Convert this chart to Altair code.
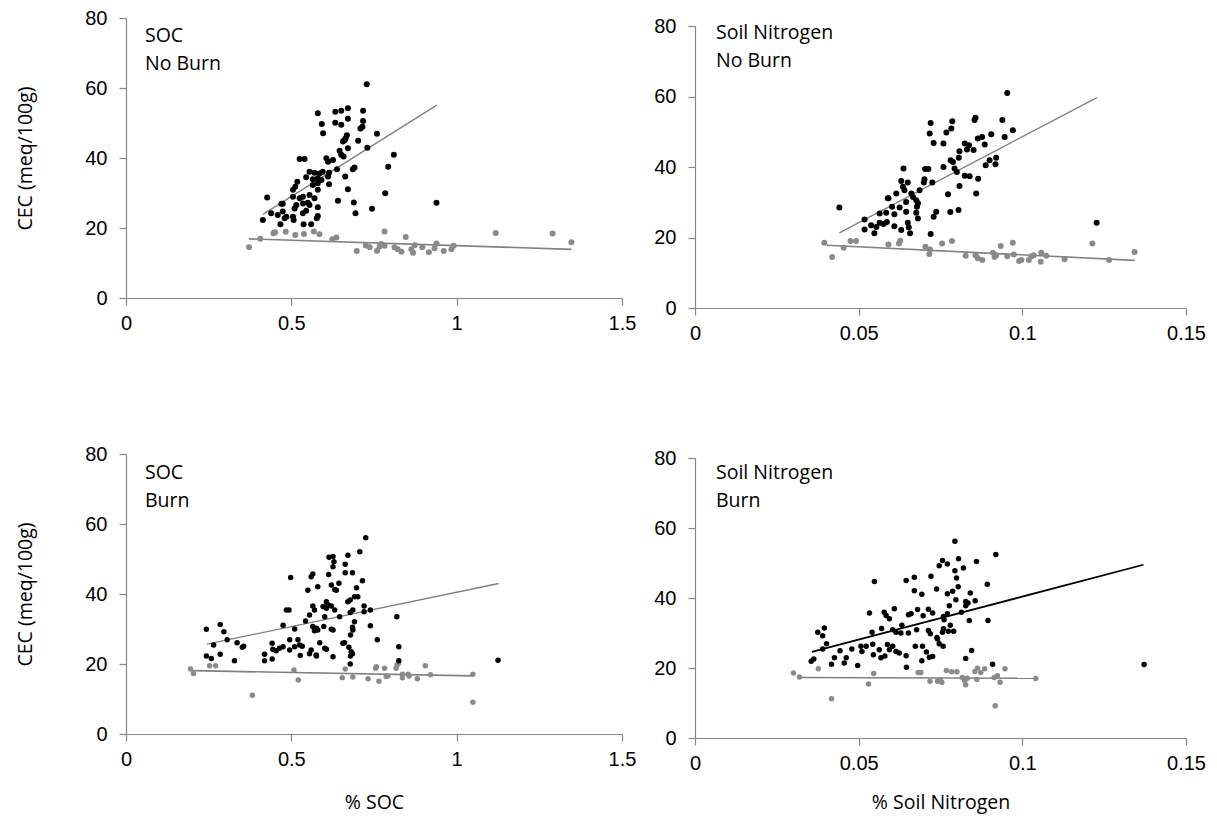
import altair as alt
import pandas as pd

# ---------------- SOC, no burn ----------------
soc_nb_black_x = [0.518, 0.512, 0.505, 0.427, 0.470, 0.474, 0.505, 0.439, 0.414, 0.459, 0.474, 0.485, 0.480,
                  0.505, 0.507, 0.467, 0.515, 0.510, 0.728,
                  0.580, 0.633, 0.651, 0.671, 0.717, 0.592, 0.633, 0.651, 0.671, 0.717, 0.715, 0.709, 0.596,
                  0.668, 0.664, 0.759, 0.656, 0.661, 0.702, 0.730, 0.671, 0.646, 0.651, 0.658, 0.810, 0.525,
                  0.540, 0.606, 0.611, 0.626, 0.793, 0.686, 0.691, 0.638, 0.555, 0.570, 0.585, 0.595, 0.614,
                  0.545, 0.565, 0.580, 0.591, 0.611, 0.663, 0.565, 0.580, 0.614, 0.580, 0.671, 0.784, 0.555,
                  0.535, 0.525, 0.570, 0.641, 0.689, 0.939, 0.535, 0.550, 0.555, 0.580, 0.744, 0.545, 0.535,
                  0.694, 0.580, 0.577, 0.537, 0.560]
soc_nb_black_y = [33.2, 31.8, 30.9, 28.7, 26.9, 26.9, 28.9, 24.2, 22.3, 23.7, 24.7, 23.2, 22.8,
                  23.2, 22.3, 21.1, 26.6, 25.6, 61.1,
                  52.8, 53.2, 53.5, 54.2, 53.5, 49.7, 50.1, 49.5, 51.2, 50.6, 48.9, 48.4, 47.1,
                  46.5, 45.6, 46.9, 44.7, 45.1, 44.9, 42.9, 42.8, 42.1, 40.9, 40.4, 40.9, 39.7,
                  39.7, 39.9, 38.9, 39.4, 37.5, 36.8, 37.3, 36.8, 36.1, 35.8, 35.6, 36.1, 35.8,
                  34.5, 33.9, 34.2, 33.7, 34.7, 34.7, 32.3, 32.8, 32.5, 30.9, 31.1, 29.9, 29.4,
                  28.9, 28.5, 28.5, 27.8, 27.3, 27.2, 27.0, 27.2, 26.6, 25.9, 25.5, 24.9, 24.2,
                  24.2, 23.4, 22.8, 21.1, 21.1]
soc_nb_gray_x = [0.372, 0.406, 0.446, 0.451, 0.483, 0.512, 0.538, 0.568, 0.585, 0.624, 0.636, 0.698, 0.725,
                 0.737, 0.759, 0.767, 0.772, 0.782, 0.782, 0.812, 0.822, 0.833, 0.846, 0.863, 0.868, 0.873,
                 0.896, 0.916, 0.933, 0.939, 0.961, 0.984, 0.991, 1.118, 1.290, 1.347]
soc_nb_gray_y = [14.5, 16.9, 18.5, 18.8, 18.9, 18.0, 18.3, 19.0, 18.2, 16.8, 17.3, 13.4, 15.0,
                 14.5, 13.5, 14.7, 15.4, 19.0, 14.9, 14.5, 13.9, 13.2, 17.4, 13.9, 12.9, 15.1,
                 14.5, 13.1, 14.2, 15.6, 13.4, 13.9, 14.9, 18.6, 18.4, 15.9]
soc_nb_fit_black_x = [0.414, 0.940]
soc_nb_fit_black_y = [23.9, 55.1]
soc_nb_fit_gray_x = [0.372, 1.347]
soc_nb_fit_gray_y = [16.9, 13.9]

# ---------------- Soil nitrogen, no burn ----------------
n_nb_black_x = [0.0441, 0.0591, 0.0518, 0.0564, 0.0584, 0.0518, 0.0538, 0.0554, 0.0548, 0.0564, 0.0576, 0.0586,
                0.0954, 0.0720, 0.0786, 0.0857, 0.0854, 0.0939, 0.0717, 0.0768, 0.0783, 0.0971, 0.0729, 0.0759,
                0.0905, 0.0946, 0.0877, 0.0864, 0.0824, 0.0837, 0.0831, 0.0851, 0.0885, 0.0808, 0.0806, 0.0781,
                0.0788, 0.0900, 0.0920, 0.0918, 0.0888, 0.0759, 0.0793, 0.0800, 0.0637, 0.0703, 0.0713, 0.0824,
                0.0839, 0.0865, 0.0808, 0.0859, 0.0701, 0.0699, 0.0725, 0.0630, 0.0650, 0.0686, 0.0635, 0.0640,
                0.0615, 0.0589, 0.0661, 0.0666, 0.0676, 0.0681, 0.0773, 0.0645, 0.0678, 0.0625, 0.0602, 0.0805,
                0.0780, 0.0737, 0.0729, 0.0609, 0.0676, 0.0681, 0.0645, 0.0609, 0.0630, 0.0650, 0.0653, 0.0657,
                0.0720, 0.1227]
n_nb_black_y = [28.5, 31.1, 25.1, 26.8, 27.0, 22.3, 23.5, 23.0, 21.2, 24.2, 23.8, 24.4,
                61.0, 52.5, 53.0, 54.0, 53.3, 53.3, 49.5, 49.8, 50.9, 50.4, 46.8, 46.7,
                49.3, 48.5, 48.5, 48.1, 46.7, 46.2, 45.0, 44.8, 46.4, 44.5, 42.6, 41.9,
                41.4, 41.9, 42.6, 40.8, 40.5, 40.0, 39.6, 38.6, 39.6, 39.4, 39.4, 37.5,
                37.4, 36.7, 34.6, 32.5, 36.5, 35.6, 35.6, 36.0, 35.6, 33.4, 34.4, 33.4,
                32.5, 31.1, 32.5, 31.5, 30.6, 29.7, 32.3, 30.1, 28.7, 28.5, 28.7, 27.8,
                27.2, 27.3, 25.9, 26.6, 27.0, 25.4, 27.3, 23.2, 22.1, 24.2, 22.9, 21.2,
                21.0, 24.2]
n_nb_gray_x = [0.0395, 0.0419, 0.0454, 0.0475, 0.0492, 0.0591, 0.0623, 0.0627, 0.0704, 0.0718, 0.0716, 0.0755,
               0.0785, 0.0827, 0.0857, 0.0864, 0.0878, 0.0910, 0.0915, 0.0920, 0.0934, 0.0971, 0.0954, 0.0974,
               0.0990, 0.0997, 0.1020, 0.1028, 0.1035, 0.1056, 0.1058, 0.1073, 0.1129, 0.1214, 0.1265, 0.1343]
n_nb_gray_y = [18.5, 14.5, 17.1, 19.0, 19.0, 18.0, 18.3, 19.1, 17.4, 16.6, 15.3, 18.3,
               19.0, 14.8, 15.0, 14.1, 13.6, 15.7, 14.5, 15.0, 17.6, 18.5, 14.7, 15.2,
               13.3, 13.6, 13.6, 14.7, 15.0, 13.1, 15.7, 14.8, 13.8, 18.3, 13.6, 15.9]
n_nb_fit_black_x = [0.0441, 0.1228]
n_nb_fit_black_y = [21.3, 59.7]
n_nb_fit_gray_x = [0.0403, 0.1343]
n_nb_fit_gray_y = [17.8, 13.5]

# ---------------- SOC, burn ----------------
soc_b_black_x = [0.725, 0.614, 0.626, 0.629, 0.626, 0.671, 0.707, 0.663, 0.663, 0.685, 0.613, 0.565, 0.560,
                 0.498, 0.715, 0.580, 0.621, 0.644, 0.636, 0.631, 0.550, 0.697, 0.606, 0.611, 0.606, 0.631,
                 0.621, 0.596, 0.565, 0.570, 0.671, 0.678, 0.691, 0.701, 0.720, 0.739, 0.720, 0.686, 0.678,
                 0.485, 0.493, 0.646, 0.601, 0.555, 0.819, 0.543, 0.475, 0.691, 0.685, 0.686, 0.565, 0.576,
                 0.570, 0.580, 0.598, 0.621, 0.626, 0.510, 0.739, 0.243, 0.285, 0.296, 0.306, 0.336, 0.352,
                 0.356, 0.265, 0.679, 0.656, 0.661, 0.586, 0.495, 0.520, 0.525, 0.510, 0.495, 0.475, 0.464,
                 0.442, 0.444, 0.454, 0.533, 0.560, 0.555, 0.575, 0.601, 0.606, 0.760, 0.825, 0.674, 0.681,
                 0.685, 0.679, 0.243, 0.258, 0.285, 0.328, 0.419, 0.419, 0.442, 0.527, 0.576, 0.626, 0.825,
                 0.678, 1.125]
soc_b_black_y = [56.1, 50.5, 50.7, 49.2, 47.8, 51.1, 52.1, 48.5, 46.1, 46.1, 45.6, 45.7, 44.9,
                 44.7, 43.8, 42.1, 42.6, 43.1, 41.1, 41.3, 41.1, 41.8, 37.8, 36.9, 35.9, 35.4,
                 36.6, 36.4, 36.6, 35.4, 37.8, 38.3, 39.2, 39.2, 36.6, 35.4, 34.9, 35.4, 34.7,
                 35.4, 35.4, 33.5, 33.5, 34.0, 33.5, 32.3, 31.1, 32.1, 30.5, 29.7, 30.7, 30.2,
                 29.5, 29.7, 30.7, 29.9, 29.7, 30.0, 30.9, 29.9, 31.3, 29.2, 26.9, 26.1, 24.8,
                 25.1, 25.4, 28.3, 25.9, 26.1, 26.1, 26.9, 26.9, 25.4, 24.9, 24.0, 24.9, 24.5,
                 25.9, 24.2, 23.8, 25.1, 24.0, 22.9, 22.6, 24.5, 24.2, 26.9, 24.9, 24.8, 23.5,
                 22.9, 22.3, 22.3, 21.6, 22.8, 20.9, 22.8, 20.9, 21.4, 22.4, 22.3, 22.1, 20.9,
                 20.0, 21.1]
soc_b_gray_x = [0.195, 0.204, 0.253, 0.271, 0.382, 0.508, 0.521, 0.654, 0.663, 0.686, 0.732, 0.757, 0.755,
                0.765, 0.782, 0.787, 0.792, 0.817, 0.820, 0.824, 0.836, 0.836, 0.853, 0.856, 0.881, 0.905,
                0.921, 1.049, 1.049]
soc_b_gray_y = [18.6, 17.3, 19.5, 19.5, 11.1, 18.3, 15.4, 16.1, 18.6, 16.3, 15.8, 19.2, 18.8,
                15.1, 18.8, 16.4, 16.6, 18.8, 19.7, 20.2, 17.1, 16.1, 17.1, 16.6, 15.8, 19.5,
                16.9, 17.1, 9.1]
soc_b_fit_black_x = [0.245, 1.127]
soc_b_fit_black_y = [25.7, 43.0]
soc_b_fit_gray_x = [0.202, 1.049]
soc_b_fit_gray_y = [18.1, 16.6]

# ---------------- Soil nitrogen, burn ----------------
n_b_black_x = [0.0794, 0.0919, 0.0805, 0.0756, 0.0746, 0.0771, 0.0820, 0.0860, 0.0645, 0.0670, 0.0721, 0.0794,
               0.0799, 0.0893, 0.0670, 0.0693, 0.0738, 0.0771, 0.0787, 0.0804, 0.0841, 0.0777, 0.0797, 0.0827,
               0.0856, 0.0827, 0.0834, 0.0680, 0.0660, 0.0652, 0.0697, 0.0713, 0.0726, 0.0759, 0.0771, 0.0761,
               0.0814, 0.0838, 0.0895, 0.0632, 0.0629, 0.0652, 0.0677, 0.0713, 0.0719, 0.0739, 0.0756, 0.0774,
               0.0780, 0.0790, 0.0759,
               0.0548, 0.0533, 0.0578, 0.0584, 0.0609, 0.0594, 0.0375, 0.0395, 0.0390, 0.0402, 0.0390, 0.0541,
               0.0570, 0.0604, 0.0614, 0.0355, 0.0363, 0.0417, 0.0426, 0.0443, 0.0456, 0.0462, 0.0479, 0.0497,
               0.0507, 0.0510, 0.0523, 0.0543, 0.0545, 0.0563, 0.0568, 0.0580, 0.0588, 0.0594, 0.0604, 0.0614,
               0.0624, 0.0646, 0.0909, 0.0827, 0.0845, 0.0645, 0.0673, 0.0695, 0.0693, 0.0707, 0.0716, 0.0726,
               0.0741, 0.0746, 0.0758, 0.1372]
n_b_black_y = [56.2, 52.4, 51.2, 50.7, 49.2, 49.7, 48.6, 50.4, 45.0, 45.9, 46.2, 47.8,
               45.7, 43.9, 42.1, 41.1, 42.6, 41.2, 41.9, 43.2, 41.4, 37.8, 39.5, 39.0,
               39.2, 37.8, 38.6, 36.7, 35.5, 35.2, 34.9, 36.8, 35.7, 34.7, 35.5, 33.8,
               35.9, 33.6, 33.6, 32.2, 30.0, 30.0, 30.9, 30.7, 29.8, 28.7, 30.2, 30.5,
               32.2, 30.5, 31.2,
               44.7, 35.7, 35.9, 35.0, 36.9, 34.1, 30.2, 31.4, 29.2, 26.9, 25.4, 30.2,
               31.3, 30.9, 30.2, 21.9, 22.6, 21.1, 22.9, 24.9, 21.4, 22.9, 25.4, 20.7,
               26.2, 24.7, 26.2, 26.8, 23.8, 25.2, 22.9, 23.4, 26.7, 25.2, 26.2, 24.7,
               24.3, 20.2, 21.1, 22.7, 25.0, 23.5, 26.2, 26.2, 22.1, 24.6, 23.1, 23.3,
               28.3, 26.9, 26.2, 21.0]
n_b_gray_x = [0.0301, 0.0319, 0.0377, 0.0417, 0.0530, 0.0546, 0.0682, 0.0690, 0.0718, 0.0741, 0.0749, 0.0754,
              0.0768, 0.0784, 0.0800, 0.0817, 0.0824, 0.0827, 0.0832, 0.0855, 0.0863, 0.0873, 0.0885, 0.0861,
              0.0914, 0.0924, 0.0932, 0.0947, 0.0917, 0.1041]
n_b_gray_y = [18.6, 17.4, 19.8, 11.2, 15.4, 18.4, 18.7, 18.7, 16.2, 16.2, 16.7, 15.9,
              19.3, 18.9, 18.9, 17.3, 16.4, 15.2, 17.1, 19.0, 19.9, 18.7, 19.8, 16.7,
              17.3, 17.8, 15.9, 19.8, 9.2, 17.0]
n_b_fit_black_x = [0.0357, 0.137]
n_b_fit_black_y = [24.6, 49.5]
n_b_fit_gray_x = [0.0319, 0.1041]
n_b_fit_gray_y = [17.3, 17.05]

# ---------------- labels and ticks ----------------
soc_ticks = [0, 0.5, 1, 1.5]
nitrogen_ticks = [0, 0.05, 0.1, 0.15]
cec_ticks = [0, 20, 40, 60, 80]
y_title = "CEC (meq/100g)"
soc_title = "% SOC"
nitrogen_title = "% Soil Nitrogen"

DARK = "#000000"
GREY = "#8a8a8a"
FIT_GREY = "#808080"
AXIS_GREY = "#868686"
LABEL_FONT = "Liberation Sans"
TEXT_FONT = "Open Sans"


def panel(bx, by, gx, gy, fbx, fby, fgx, fgy, ticks, note, width, height,
          y_range=None, x_title=None, show_y_title=False, fit_color=FIT_GREY,
          fit_width=1.3, note_y=8.0, note_x=19.0, point_size=36, title_y=67):
    pts_black = pd.DataFrame({"x": bx, "y": by})
    pts_gray = pd.DataFrame({"x": gx, "y": gy})
    fit_black = pd.DataFrame({"x": fbx, "y": fby})
    fit_gray = pd.DataFrame({"x": fgx, "y": fgy})

    x_axis = alt.Axis(values=ticks, labelExpr="'' + datum.value", labelFlush=False,
                      title=x_title if x_title else None,
                      titleFont=TEXT_FONT, titleFontSize=19.5, titleFontWeight="normal",
                      titleColor="#000", titleBaseline="middle",
                      titleY=title_y)
    y_kwargs = dict(values=cec_ticks, labelFlush=False, titleFont=TEXT_FONT, titleFontSize=19.5,
                    titleFontWeight="normal", titleColor="#000")
    if show_y_title:
        y_axis = alt.Axis(title=y_title, titleX=-101, titleY=height / 2,
                          titleAngle=270, titleBaseline="middle", titleAlign="center",
                          **y_kwargs)
    else:
        y_axis = alt.Axis(title=None, **y_kwargs)

    x_scale = alt.Scale(domain=[0, ticks[-1]], nice=False, zero=False)
    if y_range is not None:
        y_scale = alt.Scale(domain=[0, 80], nice=False, range=y_range)
    else:
        y_scale = alt.Scale(domain=[0, 80], nice=False)

    x_enc = alt.X("x:Q", scale=x_scale, axis=x_axis)
    y_enc = alt.Y("y:Q", scale=y_scale, axis=y_axis)

    black = alt.Chart(pts_black).mark_circle(size=point_size, opacity=1, color=DARK).encode(x=x_enc, y=y_enc)
    gray = alt.Chart(pts_gray).mark_circle(size=point_size, opacity=1, color=GREY).encode(x="x:Q", y="y:Q")
    line_b = alt.Chart(fit_black).mark_line(color=fit_color, strokeWidth=fit_width).encode(x="x:Q", y="y:Q")
    line_g = alt.Chart(fit_gray).mark_line(color=FIT_GREY, strokeWidth=1.6).encode(x="x:Q", y="y:Q")
    text = alt.Chart(pd.DataFrame({"t": ["\n".join(note)]})).mark_text(
        align="left", baseline="top", font=TEXT_FONT, fontSize=19.5, color="#000",
        lineBreak="\n", lineHeight=27.5
    ).encode(x=alt.value(note_x), y=alt.value(note_y), text="t:N")

    return alt.layer(line_g, line_b, gray, black, text).properties(width=width, height=height)


tl = panel(soc_nb_black_x, soc_nb_black_y, soc_nb_gray_x, soc_nb_gray_y,
           soc_nb_fit_black_x, soc_nb_fit_black_y, soc_nb_fit_gray_x, soc_nb_fit_gray_y,
           soc_ticks, ["SOC", "No Burn"], 496, 280, show_y_title=True, note_y=9)
tr = panel(n_nb_black_x, n_nb_black_y, n_nb_gray_x, n_nb_gray_y,
           n_nb_fit_black_x, n_nb_fit_black_y, n_nb_fit_gray_x, n_nb_fit_gray_y,
           nitrogen_ticks, ["Soil Nitrogen", "No Burn"], 491, 290, y_range=[290, 8],
           note_y=6, note_x=21)
bl = panel(soc_b_black_x, soc_b_black_y, soc_b_gray_x, soc_b_gray_y,
           soc_b_fit_black_x, soc_b_fit_black_y, soc_b_fit_gray_x, soc_b_fit_gray_y,
           soc_ticks, ["SOC", "Burn"], 496, 280, x_title=soc_title, show_y_title=True,
           note_y=10, point_size=30, title_y=68)
br = panel(n_b_black_x, n_b_black_y, n_b_gray_x, n_b_gray_y,
           n_b_fit_black_x, n_b_fit_black_y, n_b_fit_gray_x, n_b_fit_gray_y,
           nitrogen_ticks, ["Soil Nitrogen", "Burn"], 491, 284, y_range=[284, 4],
           x_title=nitrogen_title, fit_color=DARK, fit_width=1.8, note_y=10, note_x=21,
           point_size=30, title_y=64)

chart = alt.concat(tl, tr, bl, br, columns=2, spacing={"row": 146, "column": 73},
                   bounds="flush").properties(
    padding={"left": 15, "top": 8, "right": 10, "bottom": 10},
    background="white",
).configure_view(stroke=None).configure_axis(
    grid=False,
    domainColor=AXIS_GREY, domainWidth=1.2,
    tickColor=AXIS_GREY, tickWidth=1.2, tickSize=7,
    labelFont=LABEL_FONT, labelFontSize=20, labelColor="#000",
    labelPadding=8,
).configure_axisY(labelPadding=12)

chart.save("out.html", embed_options={"renderer": "svg", "actions": False})
